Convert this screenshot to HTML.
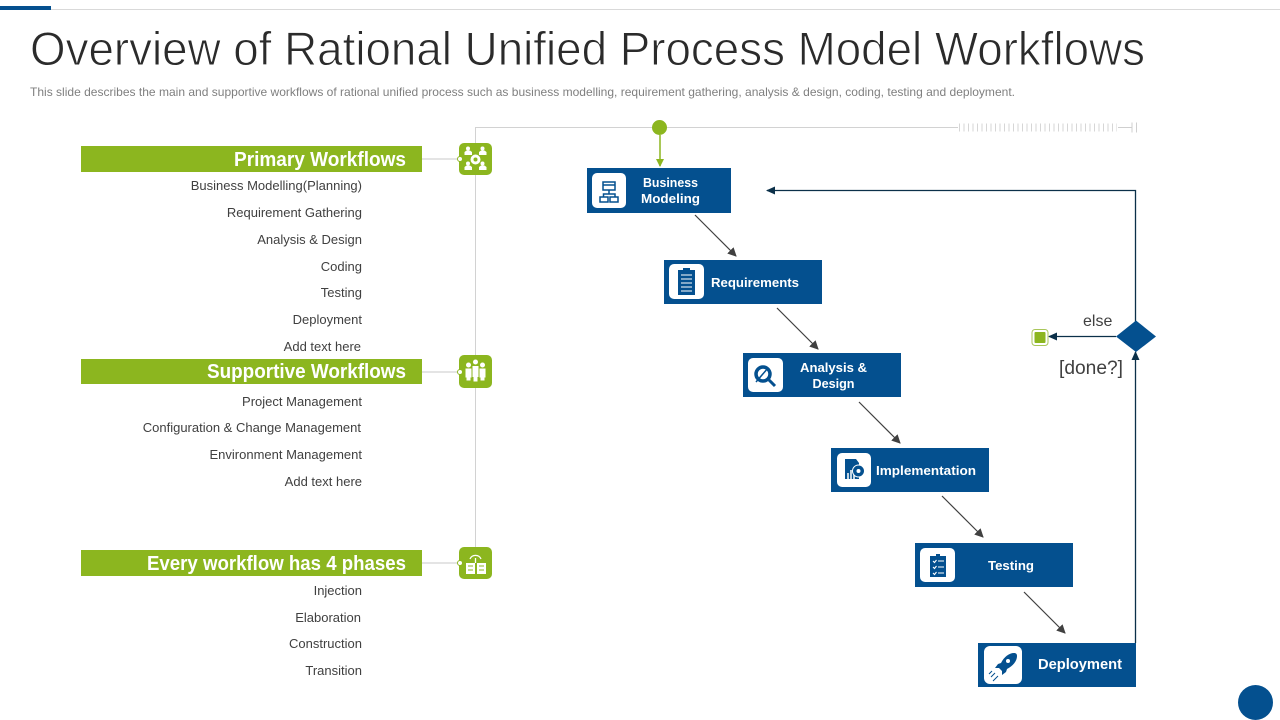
<!DOCTYPE html>
<html><head><meta charset="utf-8"><style>
html,body{margin:0;padding:0;background:#fff;width:1280px;height:720px;overflow:hidden}
svg{display:block}
text{font-family:"Liberation Sans",Arial,sans-serif}
.l{font-size:13px;fill:#404040;text-anchor:end}
.h{font-size:20px;font-weight:bold;fill:#fff;text-anchor:end}
.n{font-size:13px;font-weight:bold;fill:#fff;text-anchor:middle}
.w{fill:none;stroke:#fff;stroke-width:1.3}
.b{fill:#04508f}
</style></head><body>
<svg width="1280" height="720" viewBox="0 0 1280 720" xmlns="http://www.w3.org/2000/svg">
<defs>
<marker id="g" markerWidth="8" markerHeight="8" refX="7" refY="4" orient="auto" markerUnits="userSpaceOnUse"><path d="M0 0L8 4L0 8z" fill="#8cb61f"/></marker>
<marker id="d" markerWidth="9" markerHeight="9" refX="8" refY="4.5" orient="auto" markerUnits="userSpaceOnUse"><path d="M0 0L9 4.5L0 9z" fill="#404040"/></marker>
<marker id="n" markerWidth="9" markerHeight="8" refX="8" refY="4" orient="auto" markerUnits="userSpaceOnUse"><path d="M0 0L9 4L0 8z" fill="#0b3049"/></marker>
</defs>
<rect x="0" y="9" width="1280" height="1" fill="#d9d9d9"/>
<rect x="0" y="6" width="51" height="4" fill="#04508f"/>
<text x="30" y="65" font-size="47" fill="#2b2b2b" stroke="#fff" stroke-width="0.9" textLength="1115" lengthAdjust="spacingAndGlyphs">Overview of Rational Unified Process Model Workflows</text>
<text x="30" y="96" font-size="12" fill="#7f7f7f" textLength="985" lengthAdjust="spacingAndGlyphs">This slide describes the main and supportive workflows of rational unified process such as business modelling, requirement gathering, analysis &amp; design, coding, testing and deployment.</text>

<!-- timeline -->
<path d="M475.5 563V127.5H958" fill="none" stroke="#d2d2d2"/>
<line x1="959" y1="127.500" x2="1117" y2="127.500" stroke="#d6d6d6" stroke-width="8" stroke-dasharray="1 3.500"/>
<path d="M1118 127.500H1132M1132 122.500V132.500M1136.500 122.500V132.500" stroke="#cfcfcf" fill="none"/>
<circle cx="659.500" cy="127.500" r="7.500" fill="#8cb61f"/>
<line x1="660" y1="135" x2="660" y2="166" stroke="#8cb61f" stroke-width="1.500" marker-end="url(#g)"/>

<!-- green headers -->
<g fill="#8cb61f">
<rect x="81" y="146" width="341" height="26"/>
<rect x="81" y="359" width="341" height="25"/>
<rect x="81" y="550" width="341" height="26"/>
</g>
<text class="h" x="406" y="166" textLength="172" lengthAdjust="spacingAndGlyphs">Primary Workflows</text>
<text class="h" x="406" y="378" textLength="199" lengthAdjust="spacingAndGlyphs">Supportive Workflows</text>
<text class="h" x="406" y="570" textLength="259" lengthAdjust="spacingAndGlyphs">Every workflow has 4 phases</text>
<path d="M422 159H459M422 372H459M422 563H459" stroke="#c8c8c8"/>

<!-- green icons -->
<rect x="459" y="143" width="33" height="32" rx="5" fill="#8cb61f"/>
<rect x="459" y="355" width="33" height="33" rx="5" fill="#8cb61f"/>
<rect x="459" y="547" width="33" height="32" rx="5" fill="#8cb61f"/>
<g fill="#fff" stroke="#8cb61f">
<circle cx="460" cy="159" r="2.500"/><circle cx="460" cy="372" r="2.500"/><circle cx="460" cy="563" r="2.500"/>
</g>
<g fill="#fff">
<circle cx="475.500" cy="159.500" r="5"/>
<path d="M464.500 155v-3l2-1.500h3.500l2 1.500v3zM479 155v-3l2-1.500h3.500l2 1.500v3zM464.500 170v-3l2-1.500h3.500l2 1.500v3zM479 170v-3l2-1.500h3.500l2 1.500v3z"/>
<circle cx="468" cy="148.500" r="2"/><circle cx="482.500" cy="148.500" r="2"/><circle cx="468" cy="163.500" r="2"/><circle cx="482.500" cy="163.500" r="2"/>
<circle cx="475.500" cy="362" r="2.500"/><circle cx="468.500" cy="365" r="2.500"/><circle cx="482.500" cy="365" r="2.500"/>
<path d="M465.500 368.500h6v9h-1v3h-4v-3h-1zM472.500 366h6v11h-1v4.500h-4v-4.500h-1zM479.500 368.500h6v9h-1v3h-4v-3h-1z"/>
<rect x="466" y="563" width="9" height="11"/><rect x="477" y="563" width="9" height="11"/>
</g>
<circle cx="475.500" cy="159.500" r="2" fill="#8cb61f"/>
<path d="M468 561v1h5M468 566h5M468 570h5M479 562h5M479 566h5M479 570h5" stroke="#8cb61f" fill="none"/>
<path d="M470 559a6 6 0 0 1 11 0M475.500 558v5" class="w"/>

<!-- lists -->
<g class="lists">
<text class="l" x="362" y="190">Business Modelling(Planning)</text>
<text class="l" x="362" y="217">Requirement  Gathering</text>
<text class="l" x="362" y="244">Analysis &amp; Design</text>
<text class="l" x="362" y="271">Coding</text>
<text class="l" x="362" y="297">Testing</text>
<text class="l" x="362" y="324">Deployment</text>
<text class="l" x="361" y="351">Add text here</text>
<text class="l" x="362" y="406">Project Management</text>
<text class="l" x="361" y="432">Configuration  &amp; Change  Management</text>
<text class="l" x="362" y="459">Environment  Management</text>
<text class="l" x="362" y="486">Add text here</text>
<text class="l" x="362" y="595">Injection</text>
<text class="l" x="361" y="622">Elaboration</text>
<text class="l" x="362" y="648">Construction</text>
<text class="l" x="362" y="675">Transition</text>
</g>

<!-- blue nodes -->
<rect class="b" x="587" y="168" width="144" height="45"/>
<rect class="b" x="664" y="260" width="158" height="44"/>
<rect class="b" x="743" y="353" width="158" height="44"/>
<rect class="b" x="831" y="448" width="158" height="44"/>
<rect class="b" x="915" y="543" width="158" height="44"/>
<rect class="b" x="978" y="643" width="158" height="44"/>
<g fill="#fff">
<rect x="592" y="173" width="34" height="35" rx="5"/>
<rect x="669" y="264" width="35" height="35" rx="5"/>
<rect x="748" y="358" width="35" height="34" rx="5"/>
<rect x="837" y="453" width="34" height="34" rx="5"/>
<rect x="920" y="548" width="35" height="34" rx="5"/>
<rect x="984" y="646" width="38" height="38" rx="6"/>
</g>
<text class="n" x="670.500" y="187" textLength="55" lengthAdjust="spacingAndGlyphs">Business</text>
<text class="n" x="670.500" y="203" textLength="59" lengthAdjust="spacingAndGlyphs">Modeling</text>
<text class="n" x="755" y="287" textLength="88" lengthAdjust="spacingAndGlyphs">Requirements</text>
<text class="n" x="833.500" y="372" textLength="67" lengthAdjust="spacingAndGlyphs">Analysis &amp;</text>
<text class="n" x="833.500" y="388" textLength="42" lengthAdjust="spacingAndGlyphs">Design</text>
<text class="n" x="926" y="475" textLength="100" lengthAdjust="spacingAndGlyphs">Implementation</text>
<text class="n" x="1011" y="570" textLength="46" lengthAdjust="spacingAndGlyphs">Testing</text>
<text class="n" x="1080" y="669" style="font-size:15px" textLength="84" lengthAdjust="spacingAndGlyphs">Deployment</text>

<!-- node icons -->
<g fill="none" stroke="#04508f" stroke-width="1.500">
<rect x="603" y="182" width="12" height="8"/><path d="M603 185h12M609 190v4M603.500 197v-3h11.500v3"/><rect x="600" y="197" width="8" height="5"/><rect x="610" y="197" width="8" height="5"/>
<circle cx="763" cy="374" r="7" stroke-width="3.500"/><path d="M769 380l6 6" stroke-width="3"/>
<path d="M756 382l12-14" stroke-width="1.500"/>
</g>
<rect x="678" y="270" width="17" height="25" fill="#04508f"/>
<rect x="683" y="268" width="7" height="4" fill="#04508f"/>
<path d="M681 275h11M681 279h11M681 283h11M681 287h11M681 291h11" stroke="#fff" stroke-width="1"/>
<path d="M845 459h11l3 4v16h-14z" fill="#04508f"/>
<path d="M848 479v-6M851 479v-9M854 479v-5" stroke="#fff" stroke-width="1.500"/>
<circle cx="858.500" cy="471" r="6" fill="#04508f" stroke="#fff" stroke-width="1"/><circle cx="858.500" cy="471" r="2" fill="#fff"/>
<path d="M930 556h6v-2h4v2h6v21h-16z" fill="#04508f"/>
<path d="M933 561l1.500 1.500 2-2.500M933 567l1.500 1.500 2-2.500M933 573l1.500 1.500 2-2.500M938 561h6M938 567h6M938 573h6" stroke="#fff" stroke-width="1.100" fill="none"/>
<path d="M1014 653c-5 0-10 4-13 10l-3 1-3 4 4 0 3 3 0 4 4-3 1-3c6-3 10-8 10-13 0-2-1-3-3-3z" fill="#04508f"/>
<circle cx="1008" cy="661" r="2" fill="#fff"/>
<path d="M995 673l-4 4M998 676l-5 5M992 671l-3 3" stroke="#04508f" fill="none"/>

<!-- connectors -->
<g stroke="#404040" stroke-width="1.200" fill="none">
<line x1="695" y1="215" x2="736" y2="256" marker-end="url(#d)"/>
<line x1="777" y1="308" x2="818" y2="349" marker-end="url(#d)"/>
<line x1="859" y1="402" x2="900" y2="443" marker-end="url(#d)"/>
<line x1="942" y1="496" x2="983" y2="537" marker-end="url(#d)"/>
<line x1="1024" y1="592" x2="1065" y2="633" marker-end="url(#d)"/>
</g>
<path d="M1135.500 643V352" stroke="#0b3049" stroke-width="1.300" fill="none" marker-end="url(#n)"/>
<path d="M1135.500 322V190.500H767" stroke="#0b3049" stroke-width="1.300" fill="none" marker-end="url(#n)"/>
<path d="M1116 336.500H1049" stroke="#0b3049" stroke-width="1.300" fill="none" marker-end="url(#n)"/>
<path d="M1136 320.500L1156 336.500L1136 352L1116 336.500z" fill="#04508f"/>
<rect x="1032" y="329.500" width="16" height="16" rx="3" fill="#fff" stroke="#a9c65a"/>
<rect x="1034.500" y="332" width="11" height="11" rx="1" fill="#8cb61f"/>
<text x="1083" y="326" font-size="16" fill="#404040">else</text>
<text x="1059" y="374" font-size="19" fill="#404040" textLength="64" lengthAdjust="spacingAndGlyphs">[done?]</text>

<circle cx="1255.500" cy="702.500" r="17.500" fill="#04508f"/>
</svg>
</body></html>
